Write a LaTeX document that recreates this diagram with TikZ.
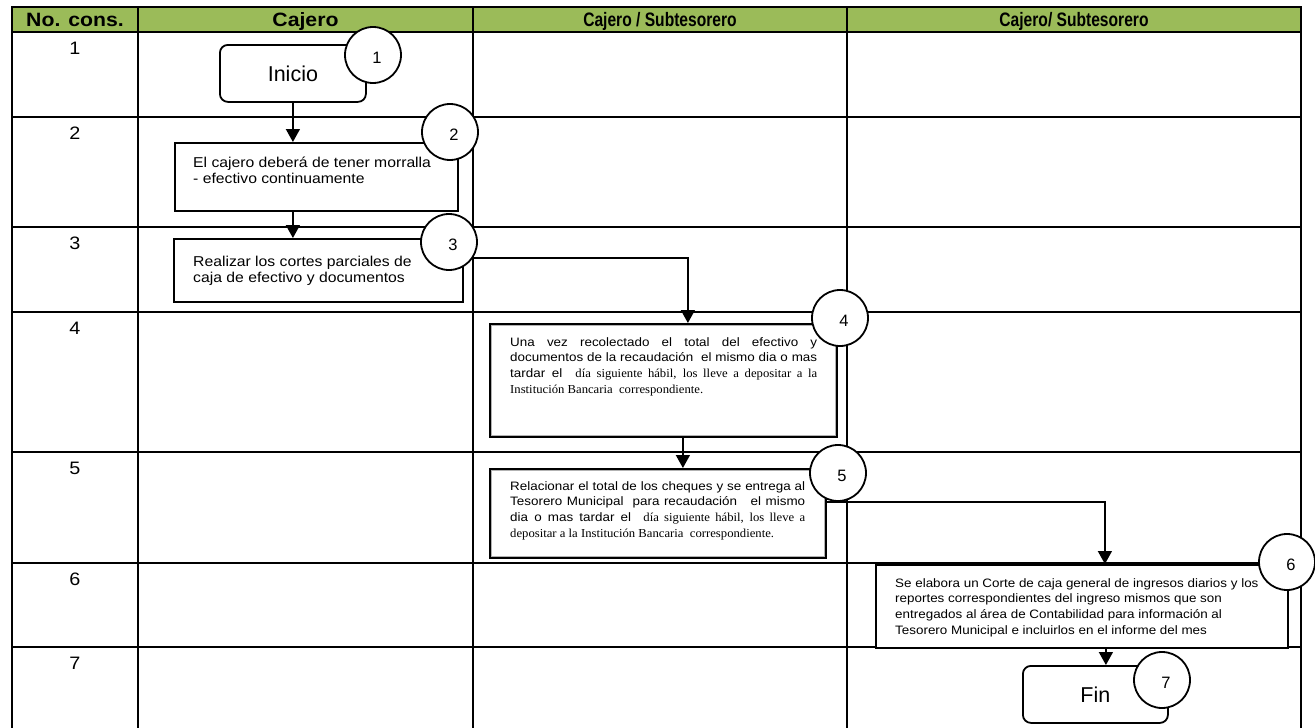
\documentclass[tikz,border=0pt]{standalone}
\usepackage{fontspec}
\setmainfont{Liberation Sans}[FakeStretch=1.1]
\newfontfamily\plainsans{Liberation Sans}
\newfontfamily\narrowsans{Liberation Sans}[FakeStretch=0.8]
\newfontfamily\tms{Liberation Serif}[FakeStretch=1.04]
\usetikzlibrary{arrows.meta}
\definecolor{hdrgreen}{HTML}{9BBB59}
% one justified line of fixed width
\newcommand{\jline}[2]{\makebox[#1][s]{#2}}
\begin{document}
\begin{tikzpicture}[x=1pt,y=-1pt,
  gridline/.style={line width=2pt},
  hdrtext/.style={font=\fontsize{19.3}{22}\selectfont\bfseries, inner sep=0, anchor=base},
  hdrnarrow/.style={hdrtext, font=\narrowsans\fontsize{19.5}{22}\selectfont\bfseries},
  rownum/.style={font=\fontsize{18}{20}\selectfont, inner sep=0, anchor=base},
  stepbox/.style={draw, line width=1.8pt, fill=white, inner sep=0, anchor=north west},
  termbox/.style={stepbox, rounded corners=8pt, font=\plainsans\fontsize{21.5}{24}\selectfont},
  numcircle/.style={circle, draw, line width=1.8pt, fill=white, minimum size=56pt, inner sep=0},
  numtext/.style={inner sep=0, font=\plainsans\fontsize{16.5}{18}\selectfont},
  bodytext/.style={inner sep=0, anchor=base west},
  innerline/.style={draw=gray!60, line width=0.9pt},
  flow/.style={line width=1.5pt, -{Triangle[width=14pt,length=13pt]}},
]
\useasboundingbox (0,0) rectangle (1315,728);

% header band
\fill[hdrgreen] (12,7) rectangle (1301,32);

% table grid
\foreach \yy in {7,32,117,227,312,452,563,647}
  \draw[gridline] (11,\yy) -- (1302,\yy);
\foreach \xx in {12,138,473,847,1301}
  \draw[gridline] (\xx,7) -- (\xx,728);

% column headings
\node[hdrtext] (h0) at (75,26.5) {No. cons.};
\node[hdrtext] (h1) at (305.5,26.5) {Cajero};
\node[hdrnarrow] (h2) at (660,26.5) {Cajero / Subtesorero};
\node[hdrnarrow] (h3) at (1074,26.5) {Cajero/ Subtesorero};

% row numbers
\foreach \n/\yy in {1/32,2/117,3/227,4/312,5/452,6/563,7/647}
  \node[rownum] (r\n) at (75,\yy+22.5) {\n};

% process steps
\node[termbox, minimum width=146pt, minimum height=57pt] (ini) at (219,44) {Inicio};
\node[stepbox, minimum width=283pt, minimum height=68pt] (b2) at (174,142) {};
\node[stepbox, minimum width=289pt, minimum height=63pt] (b3) at (173,238) {};
\node[stepbox, minimum width=347pt, minimum height=113pt] (b4) at (489,323) {};
\node[stepbox, minimum width=336pt, minimum height=89pt] (b5) at (489,468) {};
\node[stepbox, minimum width=412pt, minimum height=83pt] (b6) at (875,564) {};
\node[termbox, minimum width=145pt, minimum height=57pt] (fin) at (1022,665) {Fin};

\draw[innerline] ([shift={(2.2,2.2)}]b4.north west) rectangle ([shift={(-2.2,-2.2)}]b4.south east);
\draw[innerline] ([shift={(2.2,2.2)}]b5.north west) rectangle ([shift={(-2.2,-2.2)}]b5.south east);

% step texts
\node[bodytext] (t2) at ([shift={(19,25)}]b2.north west) {\parbox[t]{260pt}{\fontsize{14.3}{16.8}\selectfont
El cajero deberá de tener morralla\\
- efectivo continuamente}};
\node[bodytext] (t3) at ([shift={(20,28)}]b3.north west) {\parbox[t]{260pt}{\fontsize{14.3}{16.5}\selectfont
Realizar los cortes parciales de\\
caja de efectivo y documentos}};
\node[bodytext] (t4) at ([shift={(21,23)}]b4.north west) {\parbox[t]{307pt}{\fontsize{12.2}{15.8}\selectfont
\jline{307pt}{Una vez recolectado el total del efectivo y}\\
\jline{307pt}{documentos de la recaudación\ \ el mismo dia o mas}\\
\jline{307pt}{tardar el\ \ {\tms día siguiente hábil, los lleve a depositar a la}}\\
{\tms Institución Bancaria\ \ correspondiente.}}};
\node[bodytext] (t5) at ([shift={(21,22)}]b5.north west) {\parbox[t]{295pt}{\fontsize{12.2}{15.9}\selectfont
\jline{295pt}{Relacionar el total de los cheques y se entrega al}\\
\jline{295pt}{Tesorero Municipal\ \ para recaudación\ \ \ el mismo}\\
\jline{295pt}{dia o mas tardar el\ \ {\tms día siguiente hábil, los lleve a}}\\
{\tms depositar a la Institución Bancaria\ \ correspondiente.}}};
\node[bodytext] (t6) at ([shift={(20,23)}]b6.north west) {\parbox[t]{390pt}{\fontsize{12.2}{15.7}\selectfont
Se elabora un Corte de caja general de ingresos diarios y los\\
reportes correspondientes del ingreso mismos que son\\
entregados al área de Contabilidad para información al\\
Tesorero Municipal e incluirlos en el informe del mes}};

% connectors
\draw[flow] (ini.south) -- (ini.south |- b2.north);
\draw[flow] (b2.south -| ini.south) -- (b3.north -| ini.south);
\coordinate (o3) at ([yshift=12.5pt]b3.east);
\coordinate (i4) at ([xshift=24.5pt]b4.north);
\draw[flow] (o3) -| (i4);
\coordinate (o4) at ([xshift=19.5pt]b4.south);
\draw[flow] (o4) -- (o4 |- b5.north);
\coordinate (o5) at ([yshift=11.5pt]b5.east);
\coordinate (i6) at ([xshift=23pt]b6.north);
\draw[flow] (o5) -| (i6);
\coordinate (o6) at ([xshift=24pt]b6.south);
\draw[flow] (o6) -- (o6 |- fin.north);

% step number circles
\foreach \n/\cx/\cy in {1/373/55,2/450/132,3/449/242,4/840/318,5/838/473,6/1287/562,7/1162/680}{
  \node[numcircle] (c\n) at (\cx,\cy) {};
  \node[numtext] (k\n) at ([shift={(4,2.5)}]c\n.center) {\n};
}
\end{tikzpicture}
\end{document}
